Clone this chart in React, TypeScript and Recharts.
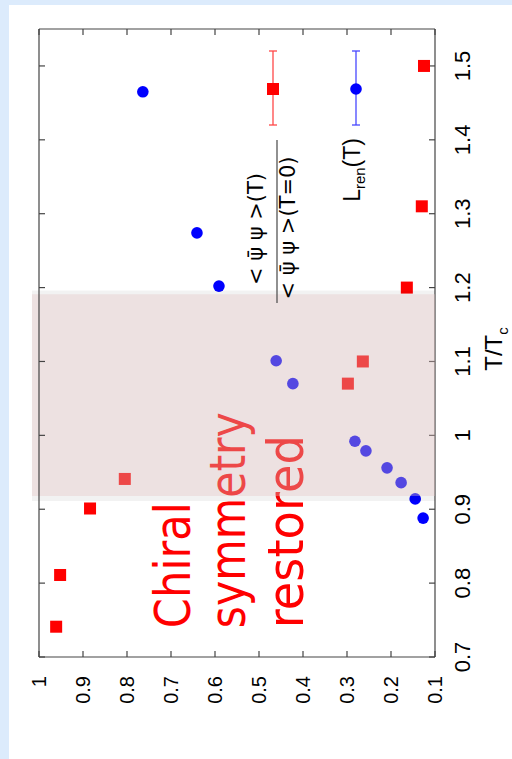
import React from 'react';
import { ScatterChart, Scatter, XAxis, YAxis, ReferenceArea, ReferenceLine, Legend } from 'recharts';

const tChiral = [0.741, 0.811, 0.901, 0.941, 1.07, 1.1, 1.2, 1.31, 1.5];
const chiralRatio = [0.961, 0.952, 0.884, 0.805, 0.298, 0.264, 0.164, 0.13, 0.125];
const tPolyakov = [0.888, 0.914, 0.936, 0.956, 0.979, 0.992, 1.07, 1.101, 1.202, 1.274, 1.465];
const polyakovRen = [0.127, 0.145, 0.177, 0.209, 0.257, 0.282, 0.423, 0.461, 0.591, 0.641, 0.764];

const tTicks = [0.7, 0.8, 0.9, 1, 1.1, 1.2, 1.3, 1.4, 1.5];
const ratioTicks = [0.1, 0.2, 0.3, 0.4, 0.5, 0.6, 0.7, 0.8, 0.9, 1];
const tDomain = [0.7, 1.55];
const ratioDomain = [0.1, 1];
const restoredBand = [0.918, 1.191];
const annotationLines = ['Chiral', 'symmetry', 'restored'];
const annotationAnchor = [{ t: 0.739, r: 0.657 }];

const chiralData = tChiral.map((t, i) => ({ t, r: chiralRatio[i] }));
const polyakovData = tPolyakov.map((t, i) => ({ t, r: polyakovRen[i] }));

const SANS = '"Liberation Sans", Arial, Helvetica, sans-serif';
const DEJAVU = '"DejaVu Sans", sans-serif';
const FRAME = '#444';

// 6px inward tick marks for the mirrored sides, in data units
const tTickLen = ((tDomain[1] - tDomain[0]) / 628) * 6;
const rTickLen = ((ratioDomain[1] - ratioDomain[0]) / 396) * 6;

const fmt = (v: number) => (v === 1 ? '1' : v.toFixed(1));

const BottomTick = ({ x, y, payload }: any) => (
  <text x={x} y={y + 41} textAnchor="middle" fontSize={22} fontFamily={SANS} fill="#000">
    {fmt(payload.value)}
  </text>
);

const LeftTick = ({ x, y, payload }: any) => (
  <text x={x - 25} y={y + 7} textAnchor="end" fontSize={20} fontFamily={SANS} fill="#000">
    {fmt(payload.value)}
  </text>
);

const AxisTitle = (props: any) => {
  const vb = props.viewBox || { x: 102, y: 435, width: 628, height: 77 };
  return (
    <text x={vb.x + vb.width / 2 - 6} y={vb.y + 67} textAnchor="middle" fontSize={24} fontFamily={SANS} fill="#000">
      T/T<tspan fontSize={15} dy={6}>c</tspan>
    </text>
  );
};

const RedSquare = ({ cx, cy }: any) => <rect x={cx - 6} y={cy - 6} width={12} height={12} fill="#ff0000" />;
const BlueDot = ({ cx, cy }: any) => <circle cx={cx} cy={cy} r={5.8} fill="#0000ff" />;

const offsets = [0, 55, 113];
const lengths = [126, 216, 193];
const Annotation = ({ cx, cy }: any) => (
  <g>
    {annotationLines.map((line, i) => (
      <text
        key={line}
        x={cx}
        y={cy + offsets[i]}
        fontSize={50}
        fontFamily={'"Comic Sans MS", ' + DEJAVU}
        fill="#ff0000"
        textLength={lengths[i]}
        lengthAdjust="spacingAndGlyphs"
      >
        {line}
      </text>
    ))}
  </g>
);

const ErrorBarGlyph = ({ cy, color }: { cy: number; color: string }) => (
  <g stroke={color} strokeWidth={1.3}>
    <line x1={194} y1={cy} x2={268} y2={cy} />
    <line x1={194} y1={cy - 4} x2={194} y2={cy + 4} />
    <line x1={268} y1={cy - 4} x2={268} y2={cy + 4} />
  </g>
);

const psiBar = '\u03C8\u0304';

const LegendBox = () => (
  <svg width={300} height={140} style={{ overflow: 'visible', display: 'block' }}>
    <text x={90} y={23} textAnchor="middle" fontSize={21} fontFamily={DEJAVU} fill="#000">
      {`< ${psiBar} \u03C8 >(T)`}
    </text>
    <line x1={16} y1={37} x2={179} y2={37} stroke="#555" strokeWidth={1.3} />
    <text x={91} y={55} textAnchor="middle" fontSize={21} fontFamily={DEJAVU} fill="#000">
      {`< ${psiBar} \u03C8 >(T=0)`}
    </text>
    <ErrorBarGlyph cy={33} color="#ff4848" />
    <rect x={224} y={27} width={12} height={12} fill="#ff0000" />

    <text x={181} y={120} textAnchor="end" fontSize={23} fontFamily={SANS} fill="#000">
      L<tspan fontSize={15} dy={5}>ren</tspan>
      <tspan dy={-5}>(T)</tspan>
    </text>
    <ErrorBarGlyph cy={116} color="#4848ff" />
    <circle cx={230} cy={116} r={5.8} fill="#0000ff" />
  </svg>
);

export default function App() {
  return (
    <div style={{ position: 'absolute', left: 0, top: 0, width: 512, height: 759, background: '#dcebfc', overflow: 'hidden' }}>
      <div style={{ position: 'absolute', left: 9, top: 5, right: 0, bottom: 0, background: '#fff' }} />
      <div
        style={{
          position: 'absolute',
          left: 0,
          top: 0,
          width: 759,
          height: 512,
          transformOrigin: '0 0',
          transform: 'translate(0px, 759px) rotate(-90deg)',
        }}
      >
        <ScatterChart width={759} height={512} margin={{ top: 39, right: 29, bottom: 0, left: 0 }}>
          <XAxis
            xAxisId="b"
            dataKey="t"
            type="number"
            domain={tDomain}
            ticks={tTicks}
            allowDataOverflow
            height={77}
            tickSize={-6}
            tickMargin={0}
            tickLine={{ stroke: FRAME, strokeWidth: 1.2 }}
            tick={<BottomTick />}
            axisLine={{ stroke: FRAME, strokeWidth: 1.2 }}
            label={<AxisTitle />}
          />
          <YAxis
            yAxisId="l"
            dataKey="r"
            type="number"
            domain={ratioDomain}
            ticks={ratioTicks}
            allowDataOverflow
            width={102}
            tickSize={-6}
            tickMargin={0}
            tickLine={{ stroke: FRAME, strokeWidth: 1.2 }}
            tick={<LeftTick />}
            axisLine={{ stroke: FRAME, strokeWidth: 1.2 }}
          />

          <Scatter xAxisId="b" yAxisId="l" data={annotationAnchor} dataKey="r" shape={<Annotation />} isAnimationActive={false} legendType="none" />
          <Scatter xAxisId="b" yAxisId="l" name="chiral" data={chiralData} dataKey="r" shape={<RedSquare />} isAnimationActive={false} />
          <Scatter xAxisId="b" yAxisId="l" name="polyakov" data={polyakovData} dataKey="r" shape={<BlueDot />} isAnimationActive={false} />

          <ReferenceArea xAxisId="b" yAxisId="l" x1={0.911} x2={1.196} y1={0.1} y2={1.016}
            fill="#000" fillOpacity={0.05} stroke="none" ifOverflow="visible" zIndex={700} />
          <ReferenceArea xAxisId="b" yAxisId="l" x1={restoredBand[0]} x2={restoredBand[1]} y1={0.1} y2={1.016}
            fill="rgb(228,196,196)" fillOpacity={0.37} stroke="none" ifOverflow="visible" zIndex={701} />

          {/* mirrored frame sides with inward ticks */}
          <ReferenceLine xAxisId="b" yAxisId="l" y={ratioDomain[1]} stroke={FRAME} strokeWidth={1.2} zIndex={800} />
          <ReferenceLine xAxisId="b" yAxisId="l" x={tDomain[1]} stroke={FRAME} strokeWidth={1.2} zIndex={800} />
          {tTicks.map((t) => (
            <ReferenceLine key={`tt${t}`} xAxisId="b" yAxisId="l" stroke={FRAME} strokeWidth={1.2} zIndex={800}
              segment={[{ x: t, y: ratioDomain[1] }, { x: t, y: ratioDomain[1] - rTickLen }]} />
          ))}
          {ratioTicks.map((r) => (
            <ReferenceLine key={`rt${r}`} xAxisId="b" yAxisId="l" stroke={FRAME} strokeWidth={1.2} zIndex={800}
              segment={[{ x: tDomain[1], y: r }, { x: tDomain[1] - tTickLen, y: r }]} />
          ))}

          <Legend
            verticalAlign="middle"
            align="center"
            layout="horizontal"
            content={<LegendBox />}
            wrapperStyle={{ left: 440, top: 240, width: 300, height: 140 }}
          />
        </ScatterChart>
      </div>
    </div>
  );
}
